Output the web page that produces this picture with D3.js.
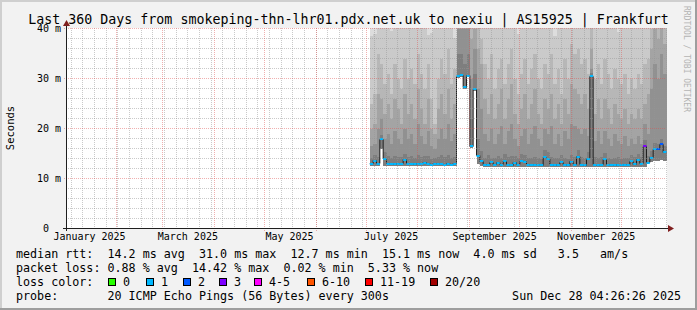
<!DOCTYPE html>
<html><head><meta charset="utf-8">
<script src="https://cdn.jsdelivr.net/npm/d3@7"></script>
<style>
html,body{margin:0;padding:0;background:#f2f2f2;}
svg{display:block;font-family:"DejaVu Sans Mono",monospace;}
text{white-space:pre;}
</style></head><body>
<svg id="chart" width="697" height="310"></svg>
<script>
// ---------------- DATA ----------------
const titleText = "Last 360 Days from smokeping-thn-lhr01.pdx.net.uk to nexiu | AS15925 | Frankfurt";
const yAxisTitle = "Seconds";
const watermark = "RRDTOOL / TOBI OETIKER";
const rangeStart = new Date(2025, 0, 2, 4, 26, 26);
const rangeEnd = new Date(2025, 11, 28, 4, 26, 26);
const seriesStart = new Date(2025, 6, 3, 4, 26, 26);
const seriesStepDays = 2;

// median RTT (ms) per 2-day step
const median = [
 13.0,13.6,13.0,17.9,14.0,13.0,13.0,12.9,13.0,13.0,
 13.7,13.0,13.0,12.9,13.0,13.0,13.2,13.0,12.8,13.0,
 13.0,12.9,12.8,13.0,12.8,13.0,30.5,30.7,28.3,30.6,
 16.5,27.8,14.6,13.5,12.8,12.8,13.3,12.8,13.2,12.8,
 13.5,12.8,12.7,13.2,12.8,13.5,13.4,12.8,12.7,12.8,
 12.8,12.7,14.3,14.0,12.8,12.7,12.8,13.3,12.8,12.7,
 13.4,12.8,14.4,12.8,12.7,14.0,30.5,12.8,12.7,12.8,
 13.9,12.8,12.7,12.7,12.8,12.7,12.8,12.8,13.5,12.9,
 13.8,13.0,16.5,13.2,14.1,15.9,15.9,16.9,15.3
];
// lowest ping (ms)
const minPing = [
 12.6,12.6,12.6,16.0,12.6,12.6,12.6,12.5,12.6,12.6,
 12.6,12.6,12.6,12.5,12.6,12.6,12.6,12.6,12.5,12.6,
 12.6,12.5,12.5,12.6,12.5,12.6,30.2,30.4,28.0,30.3,
 16.2,27.5,13.0,12.6,12.4,12.4,12.4,12.4,12.4,12.4,
 12.4,12.4,12.3,12.4,12.4,12.4,12.4,12.4,12.3,12.4,
 12.4,12.3,12.4,12.4,12.4,12.3,12.4,12.4,12.4,12.3,
 12.4,12.4,12.4,12.4,12.3,12.4,12.4,12.4,12.3,12.4,
 12.4,12.4,12.3,12.3,12.4,12.3,12.4,12.4,12.4,12.4,
 12.4,12.4,12.4,13.2,13.4,13.6,13.5,13.8,13.6
];
// smoke band upper edges (ms), outermost (max) to innermost
const smokeMax = [
 48,51,47,55,49,52,46,50,53,48,
 51,49,54,47,50,52,48,46,47,50,
 53,49,51,55,48,46,58,60,57,59,
 55,57,52,50,49,51,53,48,50,47,
 52,54,49,51,47,50,53,48,52,55,
 49,50,54,51,48,46,50,53,49,48,
 55,52,53,50,54,49,60,50,52,48,
 51,53,49,50,47,51,52,48,50,53,
 49,51,54,53,56,58,57,59,56
];
const smokeB2 = [
 38.5,39.0,41,42,41,43,39.5,42,41,43,
 42,41,43,42,41,43,42,38.8,39.2,42,
 43,41,42,43,41,38.2,45,45,45,45,
 45,45,44,43,42,41,43,42,43,41,
 42,43,41,42,39.0,42,43,41,42,43,
 41,42,43,42,41,38.5,42,43,42,41,
 43,42,43,42,43,41,45,42,43,41,
 42,43,41,42,39.3,42,43,41,42,43,
 41,42,43,44,45,45,45,45,45
];
const smokeB3 = [
 25,27,35,33,29,31,27,33,30,28,
 34,30,32,29,35,31,28,33,26,21,
 30,34,31,36,29,32,45,45,45,45,
 43,44,42,38,33,30,35,28,32,34,
 29,33,36,30,27,31,34,29,32,35,
 30,28,33,31,35,29,32,27,34,30,
 37,35,36,33,34,31,42,30,33,29,
 34,31,28,32,30,29,31,27,30,28,
 31,29,33,34,40,43,42,44,41
];
const smokeB4 = [
 20,21,27,26,23,25,22,26,24,21,
 27,23,25,22,28,24,21,26,20,19,
 24,27,23,28,22,25,43,43,43,43,
 38,40,36,33,26,23,27,22,25,28,
 22,26,29,23,21,24,27,22,25,28,
 23,21,26,24,27,22,25,21,26,23,
 29,28,27,25,27,24,36,23,26,22,
 26,24,21,25,23,22,24,21,23,22,
 24,22,25,27,36,40,38,41,37
];
const smokeB5 = [
 16.5,17,20,22,18,19,17,19.5,18,17,
 20,18,19,17,21,18.5,17,19.5,16.5,16,
 18,20,18,21,17.5,19,40,40,40,40,
 30,36,28,24,19,17.5,20,17,19,20.5,
 17,19.5,21,18,16.5,18.5,20,17,19,20.5,
 18,16.5,20,19,20.5,17,19,16.5,19.5,18,
 21,20.5,20,19,20,18.5,32,17.5,19.5,17,
 19.5,18,16.5,19,17.5,17,18.5,16.5,18,17,
 18.5,17,21,19,28,33,30,35,31
];
const smokeB6 = [
 14.2,14.8,14.3,18.8,15.3,14.5,14.2,14.6,14.3,14.4,
 15.0,14.3,14.5,14.2,14.8,14.4,14.5,14.6,14.0,14.2,
 14.4,14.7,14.3,14.8,14.2,14.4,35,35,33,35,
 22,31,18,15.5,14.2,14.8,14.1,14.2,14.6,14.2,
 14.9,14.3,14.5,14.6,14.1,14.9,14.8,14.2,14.1,14.3,
 14.2,14.0,15.8,15.4,14.3,14.1,14.2,14.7,14.2,14.0,
 14.8,14.3,15.8,14.4,14.2,15.3,31.2,14.3,14.1,14.3,
 15.2,14.2,14.0,14.1,14.3,14.0,14.2,14.1,14.8,14.3,
 15.0,14.4,17.8,14.6,15.5,17.2,17.0,18.0,16.5
];
// loss bucket index per step (0..7)
const lossIndex = [
 1,1,1,1,1,1,1,1,1,1, 1,1,1,1,1,1,1,1,1,1,
 1,1,1,1,1,1,1,1,1,1, 1,1,1,1,1,1,1,1,1,1,
 1,1,1,1,1,1,1,1,1,1, 1,1,1,1,1,1,1,1,1,1,
 1,1,1,1,1,1,1,1,1,1, 1,1,1,1,1,1,1,1,1,1,
 1,1,3,1,1,1,2,2,1
];
const lossColors = ["#26ff00","#00b8ff","#0059ff","#7e00ff","#ff00ff","#ff5500","#ff0000","#a10000"];
const lossLabels = ["0","1","2","3","4-5","6-10","11-19","20/20"];
const smokeColors = ["#dddddd","#cacaca","#b7b7b7","#a4a4a4","#919191","#7e7e7e"];

const yTicks = [0, 10, 20, 30, 40];
const yTickLabels = ["0", "10 m", "20 m", "30 m", "40 m"];
const labelMonths = [new Date(2025,0,1), new Date(2025,2,1), new Date(2025,4,1), new Date(2025,6,1), new Date(2025,8,1), new Date(2025,10,1)];
const monthLabels = ["January 2025","March 2025","May 2025","July 2025","September 2025","November 2025"];

const legendLines = [
 "median rtt:  14.2 ms avg  31.0 ms max  12.7 ms min  15.1 ms now  4.0 ms sd   3.5   am/s",
 "packet loss: 0.88 % avg  14.42 % max  0.02 % min  5.33 % now",
 "loss color:",
 "probe:       20 ICMP Echo Pings (56 Bytes) every 300s"
];
const timestampText = "Sun Dec 28 04:26:26 2025";

// ---------------- LAYOUT ----------------
const W = 697, H = 310;
const PL = 66, PR = 666, PT = 28, PB = 228;
const lossBoxX = [108, 146, 183, 219, 254, 307, 365, 430];
const minorGridCol = "rgba(150,150,150,0.5)";
const majorGridCol = "rgba(222,79,79,0.45)";

const svg = d3.select("#chart");
// background & 3D frame
svg.append("rect").attr("width", W).attr("height", H).attr("fill", "#f2f2f2");
svg.append("rect").attr("x",0).attr("y",0).attr("width",W).attr("height",2).attr("fill","#cfcfcf");
svg.append("rect").attr("x",0).attr("y",0).attr("width",2).attr("height",H).attr("fill","#cfcfcf");
svg.append("rect").attr("x",0).attr("y",H-2).attr("width",W).attr("height",2).attr("fill","#9e9e9e");
svg.append("rect").attr("x",W-2).attr("y",0).attr("width",2).attr("height",H).attr("fill","#9e9e9e");

const x = d3.scaleTime().domain([rangeStart, rangeEnd]).range([PL + 0.5, PR + 0.5]);
const y = d3.scaleLinear().domain([0, 40]).range([PB + 0.5, PT + 0.5]);

// canvas
svg.append("rect").attr("x", PL).attr("y", PT).attr("width", PR - PL + 1).attr("height", PB - PT).attr("fill", "#ffffff");

svg.append("defs").append("clipPath").attr("id","plotclip")
  .append("rect").attr("x", PL + 1).attr("y", PT).attr("width", PR - PL).attr("height", PB - PT);

// build series records (with sentinel at the end for step drawing)
const recs = median.map((m, i) => ({
  t: d3.timeDay.offset(seriesStart, i * seriesStepDays),
  t1: d3.timeDay.offset(seriesStart, (i + 1) * seriesStepDays),
  med: m, lo: minPing[i],
  bands: [smokeMax[i], smokeB2[i], smokeB3[i], smokeB4[i], smokeB5[i], smokeB6[i]],
  loss: lossIndex[i]
}));
const last = recs[recs.length - 1];
const stepRecs = recs.concat([Object.assign({}, last, {t: last.t1})]);

const plot = svg.append("g").attr("clip-path", "url(#plotclip)");
smokeColors.forEach((c, b) => {
  const area = d3.area()
    .x(d => x(d.t))
    .y0(d => y(d.lo))
    .y1(d => y(Math.min(d.bands[b], 42)))
    .curve(d3.curveStepAfter);
  plot.append("path").datum(stepRecs).attr("d", area).attr("fill", c)
    .attr("shape-rendering", "crispEdges");
});

// grid
const grid = svg.append("g");
const minorY = d3.range(0, 41, 2).filter(v => v % 10 !== 0);
grid.selectAll(".hmin").data(minorY).join("line")
  .attr("x1", PL).attr("x2", PR).attr("y1", d => y(d)).attr("y2", d => y(d))
  .attr("stroke", minorGridCol).attr("stroke-dasharray", "1,1");
const weeks = d3.timeSunday.range(rangeStart, rangeEnd);
grid.selectAll(".vmin").data(weeks).join("line")
  .attr("x1", d => Math.round(x(d) - 0.5) + 0.5).attr("x2", d => Math.round(x(d) - 0.5) + 0.5)
  .attr("y1", PT).attr("y2", PB)
  .attr("stroke", minorGridCol).attr("stroke-dasharray", "1,1");
grid.selectAll(".hmaj").data(yTicks.filter(v => v > 0)).join("line")
  .attr("x1", PL - 2).attr("x2", PR).attr("y1", d => y(d)).attr("y2", d => y(d))
  .attr("stroke", majorGridCol).attr("stroke-dasharray", "1,1");
const months = d3.timeMonth.range(rangeStart, rangeEnd);
grid.selectAll(".vmaj").data(months).join("line")
  .attr("x1", d => Math.round(x(d) - 0.5) + 0.5).attr("x2", d => Math.round(x(d) - 0.5) + 0.5)
  .attr("y1", PT).attr("y2", PB + 3)
  .attr("stroke", majorGridCol).attr("stroke-dasharray", "1,1");

// median: dark step line, then loss-coloured segments
const medLine = d3.line().x(d => x(d.t)).y(d => Math.round(y(d.med) - 0.5) + 0.5).curve(d3.curveStepAfter);
plot.append("path").datum(stepRecs).attr("d", medLine).attr("fill", "none")
  .attr("stroke", "#202020").attr("stroke-width", 1);
plot.selectAll(".seg").data(recs).join("line")
  .attr("x1", d => x(d.t)).attr("x2", d => x(d.t1))
  .attr("y1", d => Math.round(y(d.med))).attr("y2", d => Math.round(y(d.med)))
  .attr("stroke", d => lossColors[d.loss]).attr("stroke-width", 2);

// axes
const axisCol = "#1f1f1f", arrowCol = "#801f1f";
svg.append("line").attr("x1", PL - 3).attr("x2", PR + 3).attr("y1", PB + 0.5).attr("y2", PB + 0.5)
  .attr("stroke", axisCol);
svg.append("line").attr("x1", PL + 0.5).attr("x2", PL + 0.5).attr("y1", PB + 3).attr("y2", PT - 3)
  .attr("stroke", axisCol);
svg.append("path").attr("d", `M${PR + 2},${PB - 3} L${PR + 8},${PB + 0.5} L${PR + 2},${PB + 4} Z`).attr("fill", arrowCol);
svg.append("path").attr("d", `M${PL - 3},${PT - 2} L${PL + 0.5},${PT - 8} L${PL + 4},${PT - 2} Z`).attr("fill", arrowCol);

// y tick labels (unit-less label keeps the number column aligned)
const charW10 = 6.02;
svg.selectAll(".ylab").data(yTicks).join("text")
  .attr("x", (d, i) => yTickLabels[i].indexOf(" ") < 0 ? 61 - 2 * charW10 : 61)
  .attr("y", d => y(d) + 3.6)
  .attr("text-anchor", "end").attr("font-size", "10px").attr("fill", "#000")
  .text((d, i) => yTickLabels[i]);

// x labels (centred mid-month)
svg.selectAll(".xlab").data(labelMonths).join("text")
  .attr("x", d => x(d3.timeDay.offset(d, 15))).attr("y", 240)
  .attr("text-anchor", "middle").attr("font-size", "10px").attr("fill", "#000")
  .text((d, i) => monthLabels[i]);

// title, unit label, watermark
svg.append("text").attr("x", 348.5).attr("y", 23.5).attr("text-anchor", "middle")
  .attr("font-size", "13.3px").attr("fill", "#000").text(titleText);
svg.append("text").attr("transform", "translate(14,128) rotate(-90)").attr("text-anchor", "middle")
  .attr("font-size", "10.5px").attr("fill", "#000").text(yAxisTitle);
svg.append("text").attr("transform", "translate(684,59) rotate(90)").attr("text-anchor", "middle")
  .attr("font-size", "8px").attr("fill", "#b4b4b4").text(watermark);

// legend
const legBase = [258, 272, 286, 300];
legendLines.forEach((s, i) => {
  svg.append("text").attr("x", 16).attr("y", legBase[i]).attr("font-size", "11.7px")
    .attr("fill", "#000").text(s);
});
lossLabels.forEach((lab, i) => {
  svg.append("rect").attr("x", lossBoxX[i] + 0.5).attr("y", 278.5).attr("width", 7).attr("height", 7)
    .attr("fill", lossColors[i]).attr("stroke", "#000").attr("stroke-width", 1);
  svg.append("text").attr("x", lossBoxX[i] + 15).attr("y", 286).attr("font-size", "11.7px")
    .attr("fill", "#000").text(lab);
});
svg.append("text").attr("x", 681).attr("y", 300).attr("text-anchor", "end").attr("font-size", "11.7px")
  .attr("fill", "#000").text(timestampText);
</script>
</body></html>
